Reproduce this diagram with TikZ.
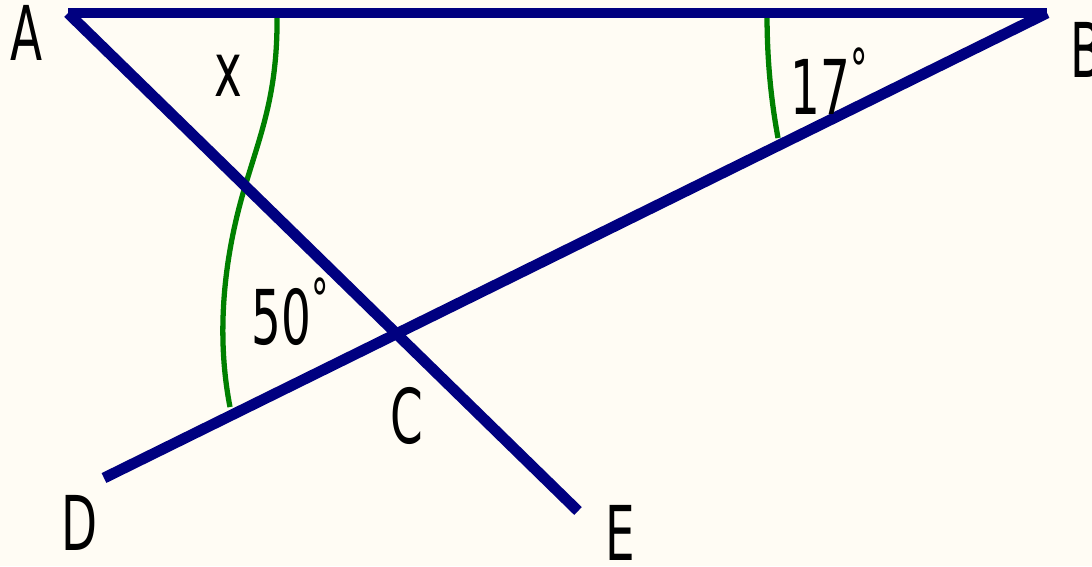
\documentclass[tikz,border=0pt]{standalone}
\usepackage{fontspec}
\setmainfont{DejaVu Sans}
\usepackage{tikz}

\definecolor{paper}{HTML}{FFFCF4}
\definecolor{navyline}{HTML}{000080}
\definecolor{arcgreen}{HTML}{008000}
\newcommand{\lbl}[1]{\scalebox{0.62}[1]{#1}}
\newcommand{\dg}{\raisebox{7pt}{\fontsize{16}{16}\selectfont °}}

\begin{document}
\begin{tikzpicture}[x=0.01cm, y=-0.01cm,
    ln/.style={navyline, line width=3.1pt},
    ang/.style={arcgreen, line width=1.5pt},
    lab/.style={inner sep=0pt, anchor=base, font=\fontsize{21.5}{24}\selectfont}]
  % Nen
  \fill[paper] (0,0) rectangle (1092,566);
  \useasboundingbox (0,0) rectangle (1092,566);

  % Cac diem
  \coordinate (A) at (68,13);
  \coordinate (B) at (1047,13);
  \coordinate (C) at (398,333);
  \coordinate (D) at (104,478);
  \coordinate (E) at (578,511);

  % Cung goc x, 50 do va 17 do
  \draw[ang] (277,14) .. controls (278,90) and (262,130) .. (247,180)
             .. controls (225,250) and (215,330) .. (230,407);
  \draw[ang] (767,14) .. controls (767,60) and (771,100) .. (778,138);

  % Cac doan thang
  \draw[ln] (A) -- (B);
  \draw[ln] (A) -- (E);
  \draw[ln] (B) -- (D);

  % Nhan
  \node[lab] (la) at (27,60) {\lbl{A}};
  \node[lab] (lb) at (1087,77) {\lbl{B}};
  \node[lab] (lc) at (407,443) {\lbl{C}};
  \node[lab] (ld) at (80,550) {\lbl{D}};
  \node[lab] (le) at (620,560) {\lbl{E}};
  \node[lab] (lx) at (228,96) {\lbl{x}};
  \node[lab, anchor=base west] (l50) at (251,344) {\lbl{50\dg}};
  \node[lab, anchor=base west] (l17) at (790,114) {\lbl{17\dg}};
\end{tikzpicture}
\end{document}
